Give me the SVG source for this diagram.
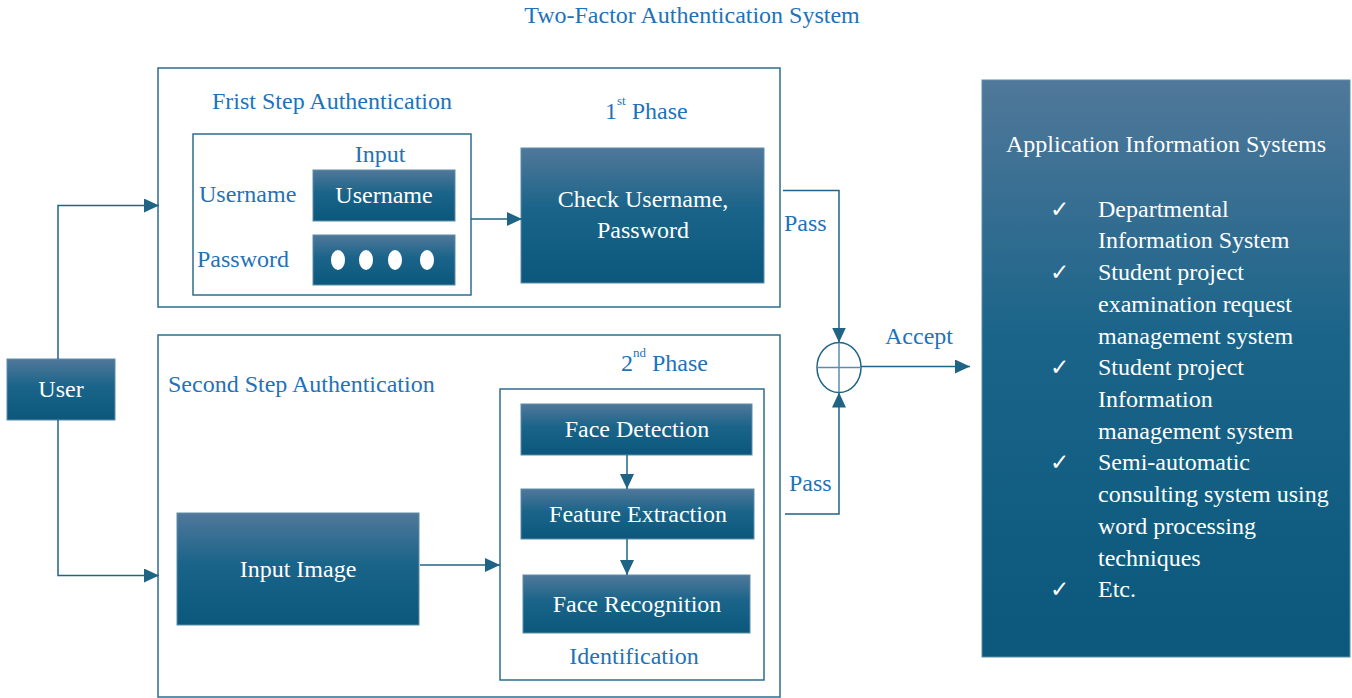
<svg xmlns="http://www.w3.org/2000/svg" width="1352" height="698" viewBox="0 0 1352 698">
<style>
.lbl{font-family:"Liberation Serif","Times New Roman",serif;font-size:24px;fill:#1f72b8}
.wt{font-family:"Liberation Serif","Times New Roman",serif;font-size:24px;fill:#ffffff;text-anchor:middle}
.lt{font-family:"Liberation Serif","Times New Roman",serif;font-size:24px;fill:#ffffff}
.ck{font-family:"DejaVu Sans",sans-serif;font-size:23px;fill:#ffffff}
.frame{fill:#ffffff;stroke:#2e6d8c;stroke-width:1.5}
.box{fill:url(#g);stroke:#5f8ca8;stroke-width:1}
.cn{fill:none;stroke:#1f6385;stroke-width:1.5}
</style>
<defs>
<linearGradient id="g" x1="0" y1="0" x2="0" y2="1">
<stop offset="0" stop-color="#50789a"/>
<stop offset="0.45" stop-color="#1a6489"/>
<stop offset="1" stop-color="#0b587c"/>
</linearGradient>
<marker id="a" markerUnits="userSpaceOnUse" markerWidth="16" markerHeight="14" refX="15" refY="7" orient="auto">
<path d="M0,0 L15,7 L0,14 Z" fill="#1f6385"/>
</marker>
</defs>
<rect width="1352" height="698" fill="#ffffff"/>
<text class="lbl" x="692" y="23" text-anchor="middle" font-size="25">Two-Factor Authentication System</text>

<g id="step1">
<rect class="frame" x="158" y="68" width="622" height="239"/>
<text class="lbl" x="212" y="109">Frist Step Authentication</text>
<text class="lbl" x="605" y="119">1<tspan font-size="13" dy="-14">st</tspan><tspan dy="14" dx="6">Phase</tspan></text>
</g>
<g id="input">
<rect class="frame" x="193" y="134" width="278" height="161"/>
<text class="lbl" x="380" y="162" text-anchor="middle">Input</text>
<text class="lbl" x="199" y="202">Username</text>
<text class="lbl" x="197" y="267">Password</text>
</g>
<g id="username-box">
<rect class="box" x="313" y="170" width="142" height="51"/>
<text class="wt" x="384" y="203">Username</text>
</g>
<g id="password-box">
<rect class="box" x="313" y="235" width="142" height="50"/>
<ellipse cx="338" cy="260" rx="7" ry="10" fill="#fff"/>
<ellipse cx="366" cy="260" rx="7" ry="10" fill="#fff"/>
<ellipse cx="395" cy="260" rx="7" ry="10" fill="#fff"/>
<ellipse cx="427" cy="260" rx="7" ry="10" fill="#fff"/>
</g>
<g id="check">
<rect class="box" x="521" y="148" width="243" height="135"/>
<text class="wt" x="643" y="207">Check Username,</text>
<text class="wt" x="643" y="238">Password</text>
</g>

<g id="step2">
<rect class="frame" x="158" y="335" width="622" height="362"/>
<text class="lbl" x="168" y="392">Second Step Authentication</text>
<text class="lbl" x="621" y="371">2<tspan font-size="13" dy="-14">nd</tspan><tspan dy="14" dx="6">Phase</tspan></text>
</g>
<g id="identification">
<rect class="frame" x="500" y="389" width="264" height="291"/>
<text class="lbl" x="634" y="664" text-anchor="middle">Identification</text>
</g>
<g id="face-detection">
<rect class="box" x="521" y="404" width="231" height="51"/>
<text class="wt" x="637" y="437">Face Detection</text>
</g>
<g id="feature-extraction">
<rect class="box" x="521" y="489" width="233" height="50"/>
<text class="wt" x="638" y="522">Feature Extraction</text>
</g>
<g id="face-recognition">
<rect class="box" x="523" y="575" width="227" height="58"/>
<text class="wt" x="637" y="612">Face Recognition</text>
</g>
<g id="input-image">
<rect class="box" x="177" y="513" width="242" height="112"/>
<text class="wt" x="298" y="577">Input Image</text>
</g>

<g id="user">
<rect class="box" x="7" y="359" width="108" height="61"/>
<text class="wt" x="61" y="397">User</text>
</g>

<g id="combine">
<ellipse cx="839" cy="367.5" rx="22" ry="25" fill="#fff" stroke="#1f6385" stroke-width="1.5"/>
<line x1="817" y1="367.5" x2="861" y2="367.5" stroke="#5f8ca8" stroke-width="1.5"/>
<line x1="839" y1="342.5" x2="839" y2="392.5" stroke="#5f8ca8" stroke-width="1.5"/>
</g>

<g id="apps">
<rect x="982" y="80" width="368" height="577" fill="url(#g)" stroke="#5f8ca8" stroke-width="1"/>
<text class="lt" x="1166" y="152" text-anchor="middle">Application Information Systems</text>
<text class="ck" x="1050" y="217">✓</text>
<text class="ck" x="1050" y="280">✓</text>
<text class="ck" x="1050" y="375">✓</text>
<text class="ck" x="1050" y="470">✓</text>
<text class="ck" x="1050" y="597">✓</text>
<text class="lt" x="1098" y="217">Departmental</text>
<text class="lt" x="1098" y="248">Information System</text>
<text class="lt" x="1098" y="280">Student project</text>
<text class="lt" x="1098" y="312">examination request</text>
<text class="lt" x="1098" y="344">management system</text>
<text class="lt" x="1098" y="375">Student project</text>
<text class="lt" x="1098" y="407">Information</text>
<text class="lt" x="1098" y="439">management system</text>
<text class="lt" x="1098" y="470">Semi-automatic</text>
<text class="lt" x="1098" y="502">consulting system using</text>
<text class="lt" x="1098" y="534">word processing</text>
<text class="lt" x="1098" y="566">techniques</text>
<text class="lt" x="1098" y="597">Etc.</text>
</g>

<g id="connectors">
<path class="cn" d="M58,359 V205.5 H159" marker-end="url(#a)"/>
<path class="cn" d="M58,420 V575.5 H159" marker-end="url(#a)"/>
<path class="cn" d="M471,219 H522" marker-end="url(#a)"/>
<path class="cn" d="M420,565 H500" marker-end="url(#a)"/>
<path class="cn" d="M627,455 V489" marker-end="url(#a)"/>
<path class="cn" d="M627,539 V575" marker-end="url(#a)"/>
<path class="cn" d="M783,190.5 H839 V342.5" marker-end="url(#a)"/>
<path class="cn" d="M785,514 H839 V392.5" marker-end="url(#a)"/>
<path class="cn" d="M861,366.5 H970" marker-end="url(#a)"/>
<text class="lbl" x="784" y="231">Pass</text>
<text class="lbl" x="789" y="491">Pass</text>
<text class="lbl" x="885" y="344">Accept</text>
</g>
</svg>
